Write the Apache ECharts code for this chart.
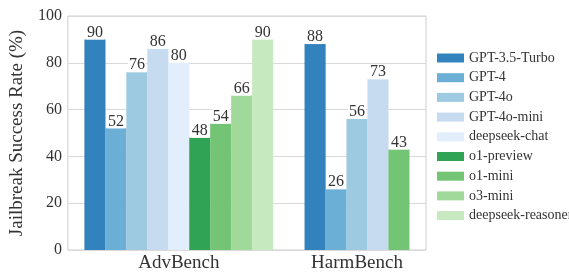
<!DOCTYPE html>
<html>
<head>
<meta charset="utf-8">
<script src="https://cdn.jsdelivr.net/npm/echarts@6/dist/echarts.min.js"></script>
<style>
  html, body { margin: 0; padding: 0; background: #fff; }
  #chart { width: 569px; height: 273px; }
</style>
</head>
<body>
<div id="chart"></div>
<script>
const categories = ['AdvBench', 'HarmBench'];
const models = ['GPT-3.5-Turbo', 'GPT-4', 'GPT-4o', 'GPT-4o-mini', 'deepseek-chat',
  'o1-preview', 'o1-mini', 'o3-mini', 'deepseek-reasoner'];
const colors = ['#3182bd', '#6baed6', '#9ecae1', '#c6dbef', '#e3eefc',
  '#31a354', '#74c476', '#a1d99b', '#c7e9c0'];
// success rate (%) per model, null = not tested
const advBench = [90, 52, 76, 86, 80, 48, 54, 66, 90];
const harmBench = [88, 26, 56, 73, null, null, 43, null, null];
const yTicks = [0, 20, 40, 60, 80, 100];

const groupValues = [advBench, harmBench];
const groupGap = 1.5;   // space between the two groups, in bar widths
const edgePad = 1.29;   // space from frame to first/last bar centre

// bars of a group sit side by side, one slot each, missing ones skipped
let next = 0;
const slots = groupValues.map(vals => {
  const row = vals.map(v => (v == null ? null : next++));
  next += groupGap;
  return row;
});
const centers = slots.map(row => {
  const used = row.filter(s => s != null);
  return (used[0] + used[used.length - 1]) / 2;
});
const lastSlot = Math.max(...slots[slots.length - 1].filter(s => s != null));

const font = 'Liberation Serif';
const series = models.map((name, i) => ({
  name: name,
  type: 'bar',
  barWidth: 21.1,
  barGap: '-100%',
  itemStyle: { color: colors[i] },
  label: {
    show: true,
    position: 'top',
    distance: 0,
    fontFamily: font,
    fontSize: 16,
    color: '#333',
    backgroundColor: '#fff',
    padding: [0, 1, -1, 1],
    formatter: p => p.value[1]
  },
  data: groupValues
    .map((vals, g) => (vals[i] == null ? null : [slots[g][i], vals[i]]))
    .filter(d => d != null)
}));

let myChart = echarts.init(document.getElementById('chart'));
let option = {
  animation: false,
  grid: {
    left: 66, right: 143, top: 16, bottom: 21,
    show: true, borderColor: '#cfcfcf', borderWidth: 1
  },
  legend: {
    orient: 'vertical',
    left: 437,
    top: 51,
    padding: 0,
    icon: 'rect',
    itemWidth: 27,
    itemHeight: 9,
    itemGap: 5.7,
    textStyle: { fontFamily: font, fontSize: 14, color: '#333' },
    data: models
  },
  xAxis: {
    type: 'value',
    min: slots[0][0] - edgePad,
    max: lastSlot + edgePad,
    splitLine: { show: false },
    axisLine: { show: false },
    axisTick: { show: false },
    axisLabel: {
      customValues: centers,
      fontFamily: font,
      fontSize: 19,
      color: '#333',
      margin: 4,
      formatter: v => categories[centers.indexOf(v)] || ''
    }
  },
  yAxis: {
    type: 'value',
    min: yTicks[0],
    max: yTicks[yTicks.length - 1],
    interval: 20,
    name: 'Jailbreak Success Rate (%)',
    nameLocation: 'middle',
    nameGap: 34,
    nameTextStyle: { fontFamily: font, fontSize: 19, color: '#333' },
    axisLine: { show: false },
    axisTick: { show: false },
    splitLine: { lineStyle: { color: '#d9d9d9', width: 1.2 } },
    axisLabel: { fontFamily: font, fontSize: 16, color: '#333', margin: 6 }
  },
  series: series
};
myChart.setOption(option);
</script>
</body>
</html>
